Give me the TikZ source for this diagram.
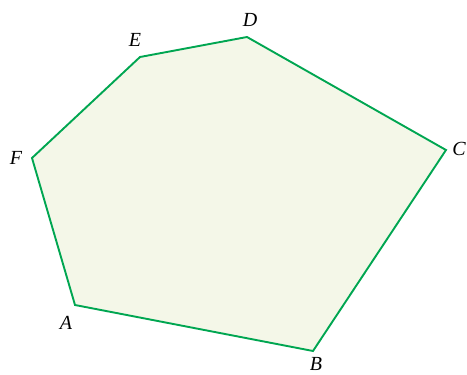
\documentclass[tikz,border=0pt]{standalone}
\usepackage{fontspec}
\setmainfont{Liberation Serif}
\usepackage{tikz}
\definecolor{pgreen}{HTML}{00A651}
\definecolor{pfill}{HTML}{F4F7E8}

\begin{document}
\begin{tikzpicture}[x=1pt,y=-1pt,
  edge/.style={draw=pgreen,line width=1.9pt,line join=miter,fill=pfill},
  vlabel/.style={font=\fontsize{20}{23}\selectfont\itshape,inner sep=0pt}]
\useasboundingbox (0,0) rectangle (467,375);
% corners of the hexagon
\coordinate (A) at (75,305);
\coordinate (B) at (313,351);
\coordinate (C) at (446,150);
\coordinate (D) at (247,37);
\coordinate (E) at (140,57);
\coordinate (F) at (32,158);
\draw[edge] (A) -- (B) -- (C) -- (D) -- (E) -- (F) -- cycle;
% names
\node[vlabel] (la) at (66,323) {A};
\node[vlabel] (lb) at (316,364) {B};
\node[vlabel] (lc) at (459,149) {C};
\node[vlabel] (ld) at (250,20) {D};
\node[vlabel] (le) at (135,40) {E};
\node[vlabel] (lf) at (16,158) {F};
\end{tikzpicture}
\end{document}
